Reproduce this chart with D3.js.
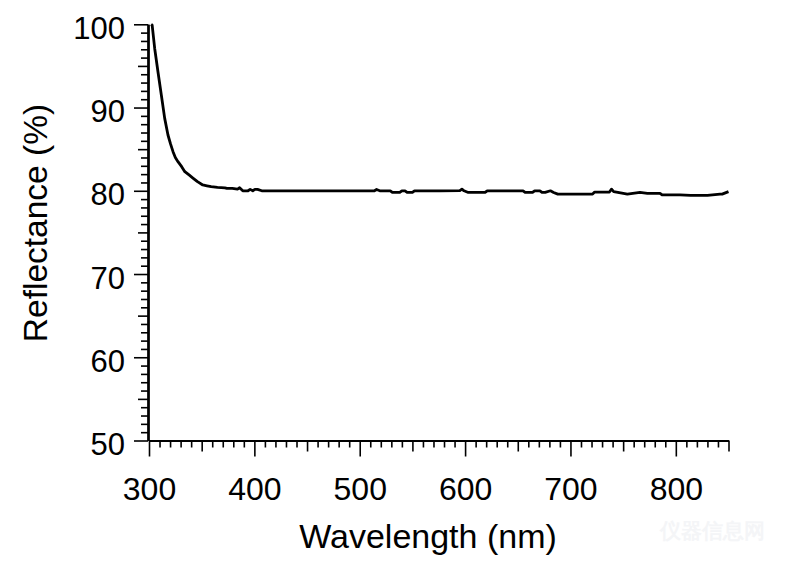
<!DOCTYPE html>
<html>
<head>
<meta charset="utf-8">
<script src="https://cdn.jsdelivr.net/npm/d3@7"></script>
<style>
  html, body { margin: 0; padding: 0; background: #fff; }
  svg { display: block; }
  text { font-family: "Liberation Sans", Arial, sans-serif; fill: #000; }
</style>
</head>
<body>
<svg id="chart" width="788" height="565"></svg>
<script>
// ---- data ----
const wavelength = [302, 303, 305.4, 308.5, 311.7, 314.9, 318, 320.5, 322.8, 325, 327.5, 331, 334, 338, 342, 346, 351, 355, 359, 365, 372, 374, 379, 384, 386, 389, 394, 396, 398.5, 400.5, 403, 407, 408, 440, 480, 514, 516, 519, 529, 531, 538, 540, 543, 545, 550, 552, 557, 560, 576, 595, 597, 599, 603, 619, 621, 627, 640, 655, 657, 664, 666, 671, 673, 676, 681, 684, 688, 698, 700, 721, 723, 737, 739, 741, 745, 754, 766, 773, 785, 787, 804, 814, 830, 842, 844, 850];
const reflectance = [100, 99.9, 97.1, 94.3, 91.5, 88.7, 86.7, 85.6, 84.7, 84.0, 83.5, 82.9, 82.3, 81.9, 81.5, 81.1, 80.7, 80.6, 80.5, 80.4, 80.36, 80.3, 80.29, 80.2, 80.36, 80.0, 80.0, 80.17, 80.0, 80.17, 80.17, 80.0, 80.0, 80.0, 80.0, 80.0, 80.15, 80.0, 80.0, 79.81, 79.81, 80.0, 80.0, 79.81, 79.81, 80.0, 80.0, 80.0, 80.0, 80.02, 80.2, 80.0, 79.8, 79.8, 80.0, 80.0, 80.0, 80.0, 79.8, 79.8, 80.0, 80.0, 79.8, 79.8, 80.0, 79.8, 79.6, 79.6, 79.6, 79.6, 79.85, 79.85, 80.2, 79.9, 79.8, 79.6, 79.8, 79.7, 79.7, 79.5, 79.5, 79.45, 79.45, 79.6, 79.6, 79.9, 79.9];

const yMajorTicks = [50, 60, 70, 80, 90, 100];
const xMajorTicks = [300, 400, 500, 600, 700, 800];
const xTitle = "Wavelength (nm)";
const yTitle = "Reflectance (%)";

// ---- layout ----
const svg = d3.select("#chart");
const x = d3.scaleLinear().domain([300, 850]).range([149, 728.5]);
const y = d3.scaleLinear().domain([50, 100]).range([440.5, 24.3]);

const g = svg.append("g");

function styleAxis(sel) {
  sel.select(".domain").attr("stroke", "#000").attr("stroke-width", 2);
  sel.selectAll(".tick line").attr("stroke", "#000").attr("stroke-width", 1.6);
}

// minor y ticks (every 1)
const yMinor = d3.range(50, 101, 1).filter(v => v % 5 !== 0);
const yMid = d3.range(55, 100, 10);
g.append("g").attr("transform", `translate(${x(300) - 1},0)`)
  .call(d3.axisLeft(y).tickValues(yMinor).tickSize(7).tickFormat("").tickSizeOuter(0))
  .call(styleAxis);
g.append("g").attr("transform", `translate(${x(300) - 1},0)`)
  .call(d3.axisLeft(y).tickValues(yMid).tickSize(10).tickFormat("").tickSizeOuter(0))
  .call(styleAxis);
const yAx = g.append("g").attr("transform", `translate(${x(300) - 1},0)`)
  .call(d3.axisLeft(y).tickValues(yMajorTicks).tickSize(14).tickPadding(9).tickSizeOuter(0))
  .call(styleAxis);
yAx.selectAll(".tick text")
  .attr("font-size", 31).attr("font-family", "Liberation Sans, Arial, sans-serif")
  .attr("dy", "14px").attr("fill", "#000");

// minor x ticks (every 10)
const xMinor = d3.range(300, 851, 10).filter(v => v % 50 !== 0);
const xMid = d3.range(350, 851, 100);
g.append("g").attr("transform", `translate(0,${y(50)})`)
  .call(d3.axisBottom(x).tickValues(xMinor).tickSize(7).tickFormat("").tickSizeOuter(0))
  .call(styleAxis);
g.append("g").attr("transform", `translate(0,${y(50)})`)
  .call(d3.axisBottom(x).tickValues(xMid).tickSize(11).tickFormat("").tickSizeOuter(0))
  .call(styleAxis);
const xAx = g.append("g").attr("transform", `translate(0,${y(50)})`)
  .call(d3.axisBottom(x).tickValues(xMajorTicks).tickSize(16).tickSizeOuter(0))
  .call(styleAxis);
xAx.selectAll(".tick text")
  .attr("font-size", 32).attr("font-family", "Liberation Sans, Arial, sans-serif")
  .attr("y", 59).attr("dy", 0).attr("fill", "#000");

// ---- the spectrum line ----
const pts = wavelength.map((w, i) => [w, reflectance[i]]);
const line = d3.line().x(d => x(d[0])).y(d => y(d[1])).curve(d3.curveLinear);
g.append("path").datum(pts)
  .attr("d", line)
  .attr("fill", "none")
  .attr("stroke", "#000")
  .attr("stroke-width", 2.8)
  .attr("stroke-linejoin", "round");

// ---- axis titles ----
svg.append("text")
  .attr("x", 428).attr("y", 548)
  .attr("text-anchor", "middle")
  .attr("font-size", 34)
  .text(xTitle);

svg.append("text")
  .attr("transform", "translate(47,223) rotate(-90)")
  .attr("text-anchor", "middle")
  .attr("font-size", 33.5)
  .text(yTitle);

// faint watermark
svg.append("text")
  .attr("x", 712).attr("y", 538)
  .attr("text-anchor", "middle")
  .attr("font-family", "Noto Sans CJK SC, sans-serif")
  .attr("font-size", 21)
  .attr("font-weight", "bold")
  .style("fill", "#f4f5f7")
  .text("仪器信息网");
</script>
</body>
</html>
